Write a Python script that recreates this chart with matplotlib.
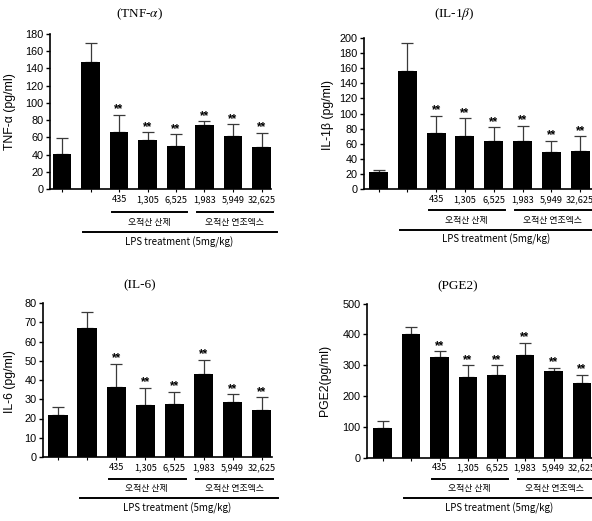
import numpy as np
import matplotlib
matplotlib.use("Agg")
import matplotlib.pyplot as plt
import matplotlib.transforms as mtransforms

plt.rcParams['mathtext.fontset'] = 'stix'
plt.rcParams['font.family'] = ['Liberation Sans', 'DejaVu Sans']

# 데이터
doses = ['', '', '435', '1,305', '6,525', '1,983', '5,949', '32,625']
groups = ['오적산 산제', '오적산 연조엑스']
treat_label = 'LPS treatment (5mg/kg)'

tnf_mean = [41, 147.5, 66, 56.5, 50, 74.5, 61, 48.5]
tnf_top = [59, 169, 86, 66, 63.5, 79, 75, 65.5]

il1b_mean = [22, 156.5, 74, 70.5, 64, 63, 48.5, 50]
il1b_top = [25, 193, 97, 94, 82, 83.5, 64, 70]

il6_mean = [22, 67, 36.5, 27, 27.5, 43, 28.5, 24.5]
il6_top = [26, 75.5, 48.5, 36, 34, 50.5, 32.5, 31]

pge2_mean = [97, 401, 327, 260, 267, 333, 281, 241]
pge2_top = [119, 423, 345, 300, 300, 373, 292, 269]

sig = [False, False, True, True, True, True, True, True]

W, H = 592, 521
fig = plt.figure(figsize=(W / 100, H / 100), dpi=100)


def fy(py):
    return 1 - py / H


def panel(mean, top, ymax, yticks, ylabel, title, axis_x, bar0, sp, y0, ytop,
          right, ylab_xy, title_xy, rows):
    left = axis_x
    ax = fig.add_axes([left / W, fy(y0), (right - left) / W, (y0 - ytop) / H])
    x = np.arange(len(mean))
    mean = np.array(mean, dtype=float)
    err = np.array(top, dtype=float) - mean
    ax.errorbar(x, mean, yerr=[np.zeros_like(err), err], fmt='none',
                ecolor='#3a3a3a', elinewidth=0.9, capsize=4.5, capthick=0.9,
                zorder=1)
    ax.bar(x, mean, width=0.66, color='black', zorder=2)
    for i in range(len(mean)):
        if sig[i]:
            ax.annotate('**', (x[i], top[i]), xytext=(0, -0.5),
                        textcoords='offset points', ha='center', va='bottom',
                        fontsize=8.5, fontweight='bold')
    for s in ['top', 'right']:
        ax.spines[s].set_visible(False)
    for s in ['left', 'bottom']:
        ax.spines[s].set_linewidth(1.2)
    ax.set_yticks(yticks)
    ax.set_xticks(x)
    ax.set_xticklabels([])
    ax.tick_params(axis='y', direction='out', length=3, width=1, pad=1.5,
                   labelsize=7.8)
    ax.tick_params(axis='x', direction='out', length=2.5, width=0.8)

    tr = mtransforms.blended_transform_factory(ax.transData, fig.transFigure)
    d_y, g_line, g_y, l_line, l_y = rows
    kr = ['Noto Sans CJK KR', 'DejaVu Sans']
    for i, lab in enumerate(doses):
        if lab:
            ax.text(x[i], fy(d_y), lab, transform=tr, ha='center', va='center',
                    fontsize=6.6, family=kr, clip_on=False)
    spans = [(2, 4), (5, 7)]
    for (a, b), g in zip(spans, groups):
        ax.plot([a - 0.25, b + 0.4], [fy(g_line)] * 2, transform=tr,
                color='black', lw=1.4, clip_on=False)
        ax.text((a + b) / 2 + 0.05, fy(g_y), g, transform=tr, ha='center',
                va='center', fontsize=6.4, family=kr, clip_on=False)
    ax.plot([0.75, 7.55], [fy(l_line)] * 2, transform=tr, color='black',
            lw=1.4, clip_on=False)
    ax.text(4.1, fy(l_y), treat_label, transform=tr, ha='center', va='center',
            fontsize=7, family=kr, clip_on=False)

    ax.set_ylim(0, ymax)
    ax.set_xlim(-(bar0 - axis_x) / sp, 7 + (right - (bar0 + 7 * sp)) / sp)

    fig.text(ylab_xy[0] / W, fy(ylab_xy[1]), ylabel, rotation=90,
             ha='center', va='center', fontsize=8.8)
    fig.text(title_xy[0] / W, fy(title_xy[1]), title, ha='center',
             va='center', fontsize=9.5, family='Liberation Serif')
    return ax


panel(tnf_mean, tnf_top, 180, np.arange(0, 181, 20), 'TNF-α (pg/ml)',
      r'(TNF-$\alpha$)', 50, 62, 28.5, 189, 34, 271, (10, 112), (140, 14),
      (200, 212, 222, 232, 242))
panel(il1b_mean, il1b_top, 200, np.arange(0, 201, 20), 'IL-1β (pg/ml)',
      r'(IL-1$\beta$)', 364, 378.5, 28.8, 189, 38, 600, (328, 115), (454, 14),
      (200, 210, 220, 230, 239))
panel(il6_mean, il6_top, 80, np.arange(0, 81, 10), 'IL-6 (pg/ml)',
      '(IL-6)', 43, 58, 29.1, 457, 303, 272, (10, 382), (140, 285),
      (468, 479, 488, 498, 508))
panel(pge2_mean, pge2_top, 500, np.arange(0, 501, 100), 'PGE2(pg/ml)',
      '(PGE2)', 367, 382.5, 28.5, 457.5, 303.5, 600, (325, 380), (458, 286),
      (468, 479, 488, 498, 508))

fig.savefig('out.png', dpi=100)
